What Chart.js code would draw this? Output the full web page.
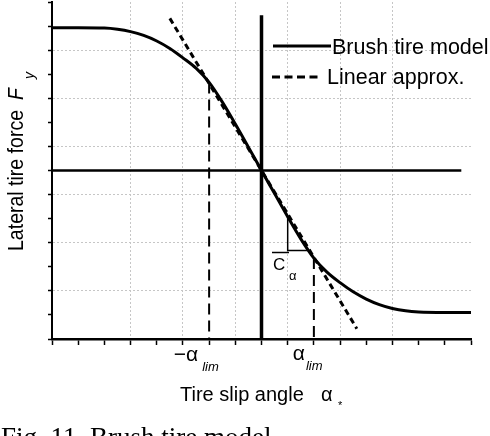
<!DOCTYPE html>
<html><head><meta charset="utf-8">
<script src="https://cdn.jsdelivr.net/npm/chart.js@4/dist/chart.umd.min.js"></script>
<style>html,body{margin:0;padding:0;background:#fff}#wrap{width:490px;height:436px;position:relative}</style>
</head><body><div id="wrap"><canvas id="c" width="490" height="436"></canvas></div>
<script>
// ---- data ----
const slipAngle  = [-8,-7,-6,-5.5,-5,-4.5,-4,-3.5,-3,-2.5,-2,-1.5,-1,-0.5,0,0.5,1,1.5,2,2.5,3,3.5,4,4.5,5,5.5,6,7,8];
const brushForce = [5.93,5.93,5.92,5.87,5.77,5.61,5.38,5.07,4.68,4.25,3.66,2.85,1.93,0.97,0,-0.96,-1.92,-2.84,-3.64,-4.22,-4.66,-5.04,-5.34,-5.57,-5.73,-5.83,-5.88,-5.9,-5.9];
const linearAngle = [-3.5, 3.64];
const linearForce = [6.32, -6.57];
const limAngles   = [-2, 2];
const limTopForce = [3.66, -3.64];
const triAngle = [1, 1, 1.76];
const triForce = [-1.92, -3.32, -3.32];
const zeroLineV = {x:[0,0], y:[6.45,-7]};
const zeroLineH = {x:[-8,7.63], y:[0,0]};
const xTickLabels = ['\u2212\u03b1', '\u03b1'];
const legendLabels = ['Brush tire model', 'Linear approx.'];

const pts = (xs, ys) => xs.map((x,i)=>({x:x, y:ys[i]}));
const base = {pointRadius:0, borderColor:'#000', fill:false, tension:0};

const datasets = [
  Object.assign({}, base, {label:legendLabels[0], data:pts(slipAngle, brushForce), borderWidth:3, cubicInterpolationMode:'monotone'}),
  Object.assign({}, base, {label:legendLabels[1], data:pts(linearAngle, linearForce), borderWidth:3, borderDash:[6,4]}),
  Object.assign({}, base, {label:'lim-', data:pts([limAngles[0],limAngles[0]],[limTopForce[0],-7]), borderWidth:2, borderDash:[11,6]}),
  Object.assign({}, base, {label:'lim+', data:pts([limAngles[1],limAngles[1]],[limTopForce[1],-7]), borderWidth:2, borderDash:[11,6]}),
  Object.assign({}, base, {label:'tri', data:pts(triAngle, triForce), borderWidth:1.5}),
  Object.assign({}, base, {label:'v0', data:pts(zeroLineV.x, zeroLineV.y), borderWidth:3.5}),
  Object.assign({}, base, {label:'h0', data:pts(zeroLineH.x, zeroLineH.y), borderWidth:2.5})
];

const gridColor = ctx => {
  const v = ctx.tick ? ctx.tick.value : 0;
  return (Math.abs(v) % 2 === 1 && Math.abs(v) < 7) ? '#c6c6c6' : 'rgba(0,0,0,0)';
};

const textPlugin = {
  id:'texts',
  afterDraw(chart){
    const c = chart.ctx, xs = chart.scales.x;
    c.save();
    c.fillStyle = '#000'; c.strokeStyle = '#000';
    // legend
    c.lineWidth = 3; c.setLineDash([]);
    c.beginPath(); c.moveTo(273,46); c.lineTo(331,46); c.stroke();
    c.setLineDash([8,4.5]);
    c.beginPath(); c.moveTo(272,77); c.lineTo(319,77); c.stroke();
    c.setLineDash([]);
    c.font = '21.5px "Liberation Sans", Arial, sans-serif';
    c.textAlign = 'left'; c.textBaseline = 'alphabetic';
    c.fillText(legendLabels[0], 332, 54);
    c.fillText(legendLabels[1], 327, 84);
    // x tick labels at +-alpha_lim
    const xm = xs.getPixelForValue(limAngles[0]);
    const xp = xs.getPixelForValue(limAngles[1]);
    c.font = '21px "Liberation Sans", Arial, sans-serif';
    c.textAlign = 'right';
    c.fillText(xTickLabels[0], xm - 11, 361);
    c.fillText(xTickLabels[1], xp - 9, 360);
    c.textAlign = 'left';
    c.font = 'italic 13px "Liberation Sans", Arial, sans-serif';
    c.fillText('lim', xm - 7, 371);
    c.fillText('lim', xp - 8, 370);
    // C alpha label
    c.font = '17px "Liberation Sans", Arial, sans-serif';
    c.fillText('C', 273, 270);
    c.lineWidth = 1.5;
    c.beginPath(); c.moveTo(272,252.5); c.lineTo(289,252.5); c.stroke();
    c.font = '13px "Liberation Sans", Arial, sans-serif';
    c.fillText('\u03b1', 289, 280);
    // x title
    c.font = '20px "Liberation Sans", Arial, sans-serif';
    c.fillText('Tire slip angle', 180, 401);
    c.fillText('\u03b1', 321, 401);
    c.font = '11px "Liberation Sans", Arial, sans-serif';
    c.fillText('*', 338, 409);
    // y title
    c.save();
    c.translate(23, 251);
    c.rotate(-Math.PI/2);
    c.font = '22px "Liberation Sans", Arial, sans-serif';
    const w = c.measureText('Lateral tire force').width;
    const sx = 141 / w;
    c.save(); c.scale(sx, 1); c.fillText('Lateral tire force', 0, 0); c.restore();
    c.save(); c.translate(151, 0); c.scale(sx, 1);
    c.font = 'italic 22px "Liberation Sans", Arial, sans-serif';
    c.fillText('F', 0, 0); c.restore();
    c.font = 'italic 14px "Liberation Sans", Arial, sans-serif';
    c.fillText('y', 172, 11);
    c.restore();
    // caption (cut at bottom)
    c.font = '27px "Liberation Serif", "Times New Roman", serif';
    c.fillText('Fig. 11. Brush tire model', 1, 446);
    c.restore();
  }
};

new Chart(document.getElementById('c'), {
  type:'line',
  data:{datasets:datasets},
  plugins:[textPlugin],
  options:{
    responsive:false, animation:false, devicePixelRatio:1,
    layout:{padding:{top:2, right:19, left:0, bottom:0}},
    plugins:{legend:{display:false}, tooltip:{enabled:false}, title:{display:false}},
    scales:{
      x:{type:'linear', min:-8, max:8,
         ticks:{stepSize:1, display:false},
         grid:{color:gridColor, lineWidth:1, tickColor:'#000', tickLength:6, tickWidth:1.5, drawTicks:true},
         border:{display:true, color:'#000', width:2.5, dash:[2,2]},
         afterFit(s){ s.height = 97; }},
      y:{type:'linear', min:-7, max:7,
         ticks:{stepSize:1, display:false},
         grid:{color:gridColor, lineWidth:1, tickColor:'#000', tickLength:4, tickWidth:1.5, drawTicks:true},
         border:{display:true, color:'#000', width:2, dash:[2,2]},
         afterFit(s){ s.width = 52; }}
    }
  }
});
</script></body></html>
